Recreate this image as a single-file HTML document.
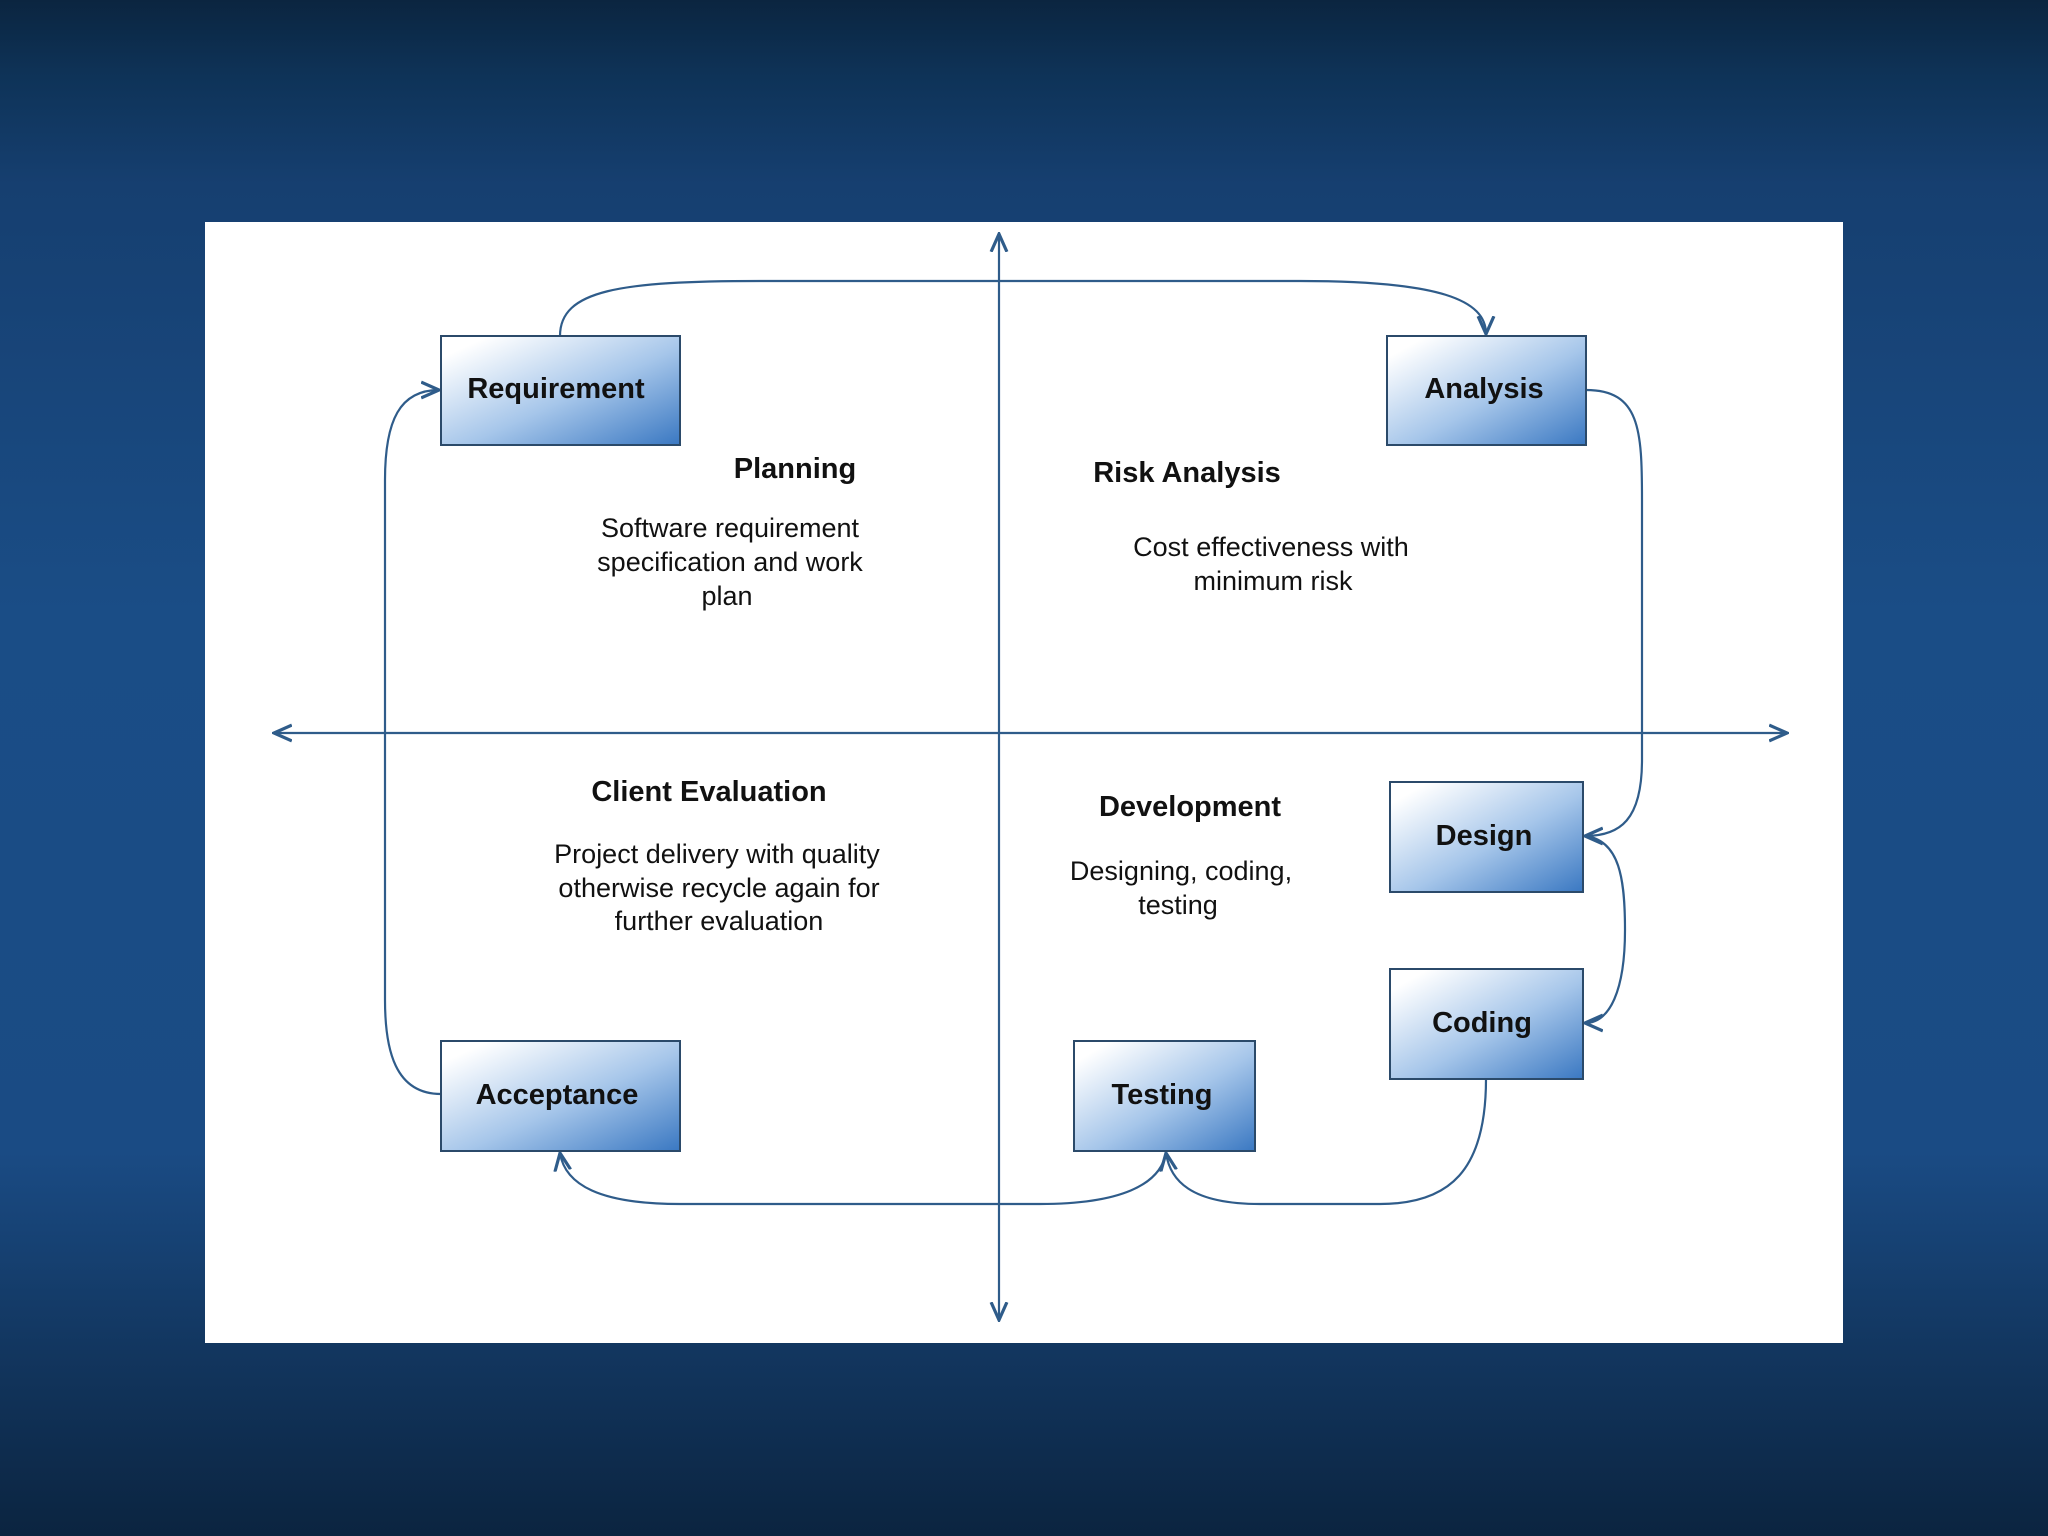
<!DOCTYPE html>
<html><head><meta charset="utf-8"><style>
html,body{margin:0;padding:0;width:2048px;height:1536px;overflow:hidden}
body{background:linear-gradient(180deg,#0b2540 0%,#0e3358 5%,#163f70 12%,#1a4d86 40%,#1a4b84 75%,#12365f 88%,#0b2440 100%);}
svg{position:absolute;left:0;top:0}
</style></head><body>
<svg width="2048" height="1536" viewBox="0 0 2048 1536" font-family="Liberation Sans, sans-serif">
<defs>
<linearGradient id="g" x1="0" y1="0" x2="1" y2="1">
<stop offset="0.1" stop-color="#ffffff"/><stop offset="0.55" stop-color="#a6c6ea"/><stop offset="1" stop-color="#3a78c2"/>
</linearGradient>
<marker id="a" viewBox="0 0 10 10" refX="9" refY="5" markerWidth="9" markerHeight="9" orient="auto-start-reverse">
<path d="M0,1 L9,5 L0,9" fill="none" stroke="#2f5c8a" stroke-width="1.6"/>
</marker>
</defs>
<rect x="205" y="222" width="1638" height="1121" fill="#ffffff"/>
<g stroke="#2f5c8a" stroke-width="2.2" fill="none">
<line x1="999" y1="234" x2="999" y2="1320" marker-start="url(#a)" marker-end="url(#a)"/>
<line x1="274" y1="733" x2="1787" y2="733" marker-start="url(#a)" marker-end="url(#a)"/>
<path d="M560,336 C560,290 620,281 760,281 L1300,281 C1440,281 1486,300 1486,334" marker-end="url(#a)"/>
<path d="M1586,390 C1640,390 1642,430 1642,500 L1642,760 C1642,820 1620,836 1585,836" marker-end="url(#a)"/>
<path d="M1585,836 C1620,840 1625,880 1625,930 C1625,990 1610,1023 1585,1023" marker-end="url(#a)"/>
<path d="M1486,1079 C1486,1170 1450,1204 1380,1204 L1260,1204 C1190,1204 1170,1180 1166,1153" marker-end="url(#a)"/>
<path d="M1166,1153 C1160,1185 1120,1204 1040,1204 L680,1204 C600,1204 565,1185 560,1153" marker-end="url(#a)"/>
<path d="M441,1094 C395,1094 385,1050 385,1000 L385,480 C385,420 400,390 439,390" marker-end="url(#a)"/>
</g>
<g stroke="#2b4a6a" stroke-width="2" fill="url(#g)">
<rect x="441" y="336" width="239" height="109"/>
<rect x="1387" y="336" width="199" height="109"/>
<rect x="1390" y="782" width="193" height="110"/>
<rect x="1390" y="969" width="193" height="110"/>
<rect x="1074" y="1041" width="181" height="110"/>
<rect x="441" y="1041" width="239" height="110"/>
</g>
<g font-weight="bold" font-size="29" fill="#111" text-anchor="middle">
<text x="556" y="398">Requirement</text>
<text x="1484" y="398">Analysis</text>
<text x="1484" y="845">Design</text>
<text x="1482" y="1032">Coding</text>
<text x="1162" y="1104">Testing</text>
<text x="557" y="1104">Acceptance</text>
<text x="795" y="478">Planning</text>
<text x="1187" y="482">Risk Analysis</text>
<text x="709" y="801">Client Evaluation</text>
<text x="1190" y="816">Development</text>
</g>
<g font-size="27" fill="#111" text-anchor="middle">
<text x="730" y="537">Software requirement</text>
<text x="730" y="571">specification and work</text>
<text x="727" y="605">plan</text>
<text x="1271" y="556">Cost effectiveness with</text>
<text x="1273" y="590">minimum risk</text>
<text x="717" y="863">Project delivery with quality</text>
<text x="719" y="897">otherwise recycle again for</text>
<text x="719" y="930">further evaluation</text>
<text x="1181" y="880">Designing, coding,</text>
<text x="1178" y="914">testing</text>
</g>
</svg>
</body></html>
